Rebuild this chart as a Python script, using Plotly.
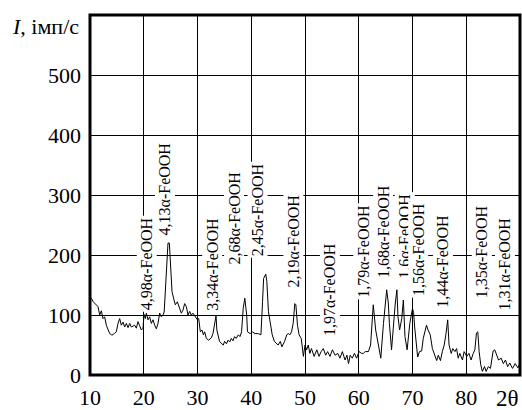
import plotly.graph_objects as go

# 2θ (degrees) and intensity (imp/s)
two_theta = [10.0, 10.25, 10.6, 10.87, 11.2, 11.49, 11.8, 12.11, 12.42, 12.73, 13.04, 13.4, 13.66,
             14.0, 14.28, 14.6, 14.9, 15.21, 15.52, 15.83, 16.14, 16.45, 16.76, 17.07, 17.38, 17.69,
             18.0, 18.31, 18.62, 18.93, 19.24, 19.55, 19.86, 20.05, 20.3, 20.48, 20.79, 21.1, 21.41,
             21.72, 22.03, 22.34, 22.65, 22.96, 23.27, 23.58, 23.8, 24.02, 24.39, 24.51, 24.76, 24.95,
             25.26, 25.63, 25.88, 26.25, 26.68, 26.99, 27.3, 27.61, 27.92, 28.23, 28.54, 28.85, 29.16,
             29.6, 29.97, 30.22, 30.53, 30.84, 31.09, 31.33, 31.64, 32.08, 32.57, 32.88, 33.2, 33.45,
             33.6, 33.8, 34.1, 34.4, 34.8, 35.05, 35.4, 35.67, 36.0, 36.29, 36.6, 36.9, 37.2, 37.6,
             37.9, 38.2, 38.5, 38.8, 39.15, 39.3, 39.8, 40.2, 40.7, 41.3, 41.8, 42.1, 42.3, 42.7,
             42.9, 43.2, 43.5, 43.9, 44.3, 44.7, 45.0, 45.4, 45.7, 46.2, 46.6, 46.9, 47.2, 47.5,
             47.8, 48.1, 48.3, 48.6, 48.9, 49.3, 49.5, 49.7, 50.0, 50.3, 50.6, 50.9, 51.2, 51.7,
             52.2, 52.6, 53.0, 53.4, 53.85, 54.2, 54.65, 55.1, 55.6, 56.1, 56.5, 56.95, 57.45, 57.8,
             58.1, 58.4, 58.8, 59.2, 59.6, 60.05, 60.55, 60.85, 61.2, 61.8, 62.2, 62.45, 62.7, 63.15,
             63.6, 64.1, 64.6, 65.2, 65.5, 65.7, 66.1, 66.4, 66.8, 67.1, 67.3, 67.6, 68.0, 68.3,
             68.6, 69.0, 69.5, 70.0, 70.2, 70.4, 70.6, 70.96, 71.3, 71.7, 72.0, 72.4, 72.6, 72.9,
             73.3, 73.7, 74.1, 74.5, 74.8, 75.2, 75.55, 75.9, 76.2, 76.55, 76.8, 77.2, 77.5, 77.9,
             78.2, 78.5, 78.8, 79.3, 79.6, 80.1, 80.5, 80.9, 81.3, 81.6, 81.9, 82.15, 82.4, 82.7,
             83.0, 83.4, 83.7, 84.1, 84.5, 84.7, 85.0, 85.3, 85.7, 86.0, 86.5, 86.9, 87.3, 87.7,
             88.1, 88.6, 89.1, 89.6, 90.0]
intensity = [130, 128, 122, 119, 117, 114, 100, 107, 94, 97, 83, 75, 69,
             67, 67, 70, 72, 86, 94, 83, 88, 80, 86, 79, 86, 80,
             81, 83, 78, 89, 82, 75, 78, 101, 94, 103, 92, 97, 86,
             92, 83, 77, 86, 103, 97, 100, 105, 139, 189, 220, 220, 178,
             139, 125, 117, 122, 111, 103, 108, 119, 114, 100, 106, 100, 103,
             97, 92, 94, 72, 75, 67, 72, 61, 58, 62, 69, 89, 99,
             75, 66, 56, 53, 50, 56, 52, 58, 55, 61, 57, 64, 61, 67,
             64, 72, 111, 128, 100, 72, 69, 72, 69, 69, 67, 122, 161, 168,
             156, 106, 89, 67, 56, 53, 50, 56, 47, 56, 67, 69, 67, 72,
             86, 119, 117, 83, 67, 61, 44, 31, 50, 42, 50, 36, 44, 31,
             42, 31, 39, 44, 33, 39, 31, 42, 33, 36, 28, 39, 25, 33,
             19, 33, 28, 36, 28, 39, 36, 36, 39, 39, 50, 89, 117, 75,
             53, 28, 86, 142, 120, 86, 42, 81, 120, 142, 97, 75, 94, 125,
             64, 42, 86, 111, 104, 80, 58, 30, 39, 40, 61, 78, 83, 75,
             67, 44, 33, 24, 33, 24, 39, 50, 67, 92, 50, 36, 44, 39,
             44, 28, 36, 25, 39, 31, 36, 25, 36, 42, 70, 72, 39, 17,
             6, 14, 6, 14, 11, 25, 40, 42, 33, 25, 28, 19, 25, 14,
             20, 11, 19, 12, 20]

x_ticks = [10, 20, 30, 40, 50, 60, 70, 80]
y_ticks = [0, 100, 200, 300, 400, 500]

# Peak labels and their anchor points (2θ, lower end of label in imp/s)
peak_labels = ["4,98α-FeOOH", "4,13α-FeOOH", "3,34α-FeOOH", "2,68α-FeOOH", "2,45α-FeOOH",
               "2,19α-FeOOH", "1,97α-FeOOH", "1,79α-FeOOH", "1,68α-FeOOH", "1,6α-FeOOH",
               "1,56α-FeOOH", "1,44α-FeOOH", "1,35α-FeOOH", "1,31α-FeOOH"]
peak_label_x = [20.55, 23.95, 32.65, 36.8, 41.1, 47.8, 54.6, 60.85, 64.57, 68.6, 71.1, 75.7, 82.9, 87.2]
peak_label_y = [105, 230, 104, 180, 194, 142, 62, 125, 158, 158, 128, 108, 125, 105]

FONT = "Liberation Serif, Times New Roman, serif"

fig = go.Figure()
fig.add_trace(go.Scatter(x=two_theta, y=intensity, mode="lines",
                         line=dict(color="black", width=1), showlegend=False,
                         hoverinfo="skip"))

for txt, lx, ly in zip(peak_labels, peak_label_x, peak_label_y):
    fig.add_annotation(x=lx, y=ly, xref="x", yref="y", text=txt, textangle=-90,
                       showarrow=False, xanchor="center", yanchor="bottom",
                       bgcolor="white", borderpad=1,
                       font=dict(family=FONT, size=16, color="black"))

fig.add_annotation(x=0, y=1, xref="paper", yref="paper", text="<i>I</i>, імп/с",
                   showarrow=False, xanchor="right", yanchor="middle", xshift=-9, yshift=-11,
                   font=dict(family=FONT, size=22, color="black"))
fig.add_annotation(x=1, y=0, xref="paper", yref="paper", text="2θ",
                   showarrow=False, xanchor="right", yanchor="top", xshift=0, yshift=-10,
                   borderpad=0, font=dict(family=FONT, size=23, color="black"))

fig.add_shape(type="rect", xref="paper", yref="paper", x0=0, x1=1, y0=0, y1=1,
              line=dict(color="black", width=3), layer="above")

fig.update_layout(
    width=522, height=410,
    margin=dict(l=90, r=2, t=15, b=35, autoexpand=False),
    paper_bgcolor="white", plot_bgcolor="white",
    showlegend=False,
    xaxis=dict(range=[10, 90], tickvals=x_ticks, ticktext=[str(v) for v in x_ticks],
               showgrid=True, gridcolor="black", gridwidth=1, zeroline=False,
               showline=False, ticks="", ticklabelstandoff=7, automargin=False,
               tickfont=dict(family=FONT, size=22, color="black"), fixedrange=True),
    yaxis=dict(range=[0, 600], tickvals=y_ticks, ticktext=[str(v) for v in y_ticks],
               showgrid=True, gridcolor="black", gridwidth=1, zeroline=False,
               showline=False, ticks="", ticklabelstandoff=8, automargin=False,
               tickfont=dict(family=FONT, size=22, color="black"), fixedrange=True),
)
fig.write_html("out.html", config={"displayModeBar": False},
               post_script="document.body.style.margin='0';document.body.style.overflow='hidden';")
